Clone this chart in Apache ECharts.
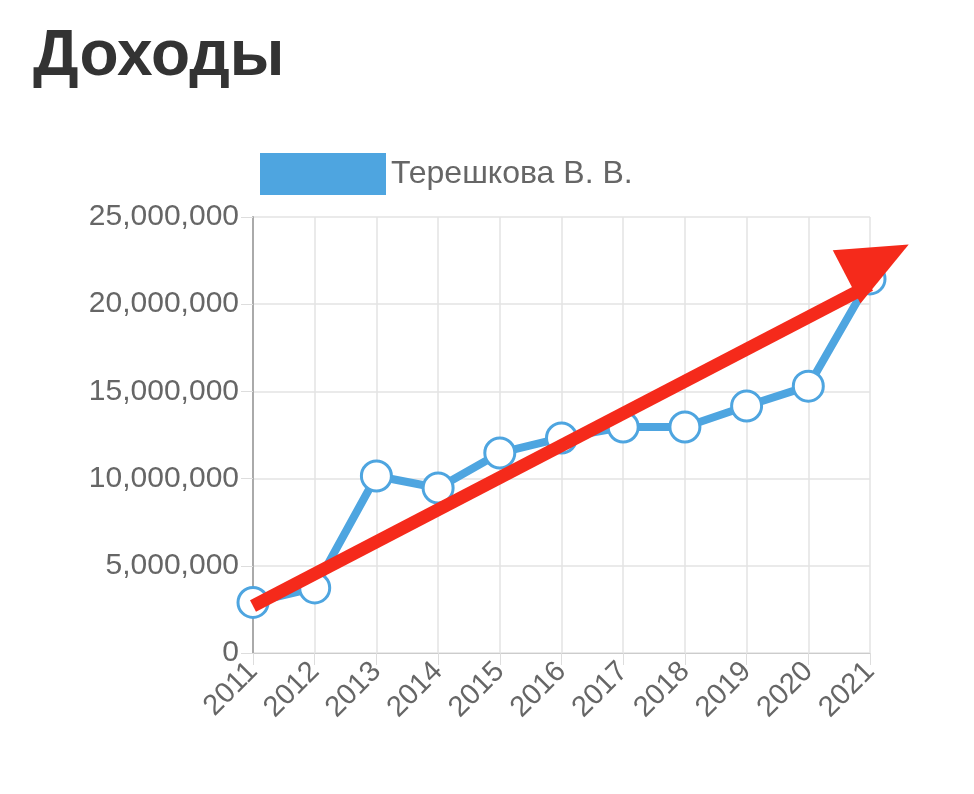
<!DOCTYPE html>
<html>
<head>
<meta charset="utf-8">
<script src="https://cdn.jsdelivr.net/npm/echarts@6/dist/echarts.min.js"></script>
<style>html,body{margin:0;padding:0;background:#fff}#c{width:974px;height:794px}</style>
</head>
<body>
<div id="c"></div>
<script>
var years = ['2011','2012','2013','2014','2015','2016','2017','2018','2019','2020','2021'];
var income = [2900000, 3730000, 10150000, 9460000, 11470000, 12330000, 12960000, 12960000, 14160000, 15300000, 21450000];
var arrowFrom = ['2011', 2700000];
var arrowTo = ['2021', 21100000];

var chart = echarts.init(document.getElementById('c'));
chart.setOption({
	animation: false,
	title: {
		text: 'Доходы',
		left: 28, top: 20,
		textStyle: {fontSize: 64, fontWeight: 'bold', color: '#333', fontFamily: 'Liberation Sans'}
	},
	legend: {
		data: ['Терешкова В. В.'],
		left: 255, top: 148,
		itemWidth: 126, itemHeight: 42,
		itemGap: 14,
		icon: 'rect',
		itemStyle: {color: '#4ea5e0', borderWidth: 0},
		textStyle: {fontSize: 32, color: '#666', fontFamily: 'Liberation Sans'}
	},
	grid: {left: 253, right: 104, top: 217, bottom: 141},
	xAxis: {
		type: 'category',
		data: years,
		boundaryGap: false,
		axisLine: {lineStyle: {color: '#ccc'}},
		axisTick: {show: true, length: 12, lineStyle: {color: '#ddd'}},
		splitLine: {show: true, lineStyle: {color: '#e3e3e3', width: 1.5}},
		axisLabel: {rotate: 45, fontSize: 29, color: '#666', margin: 14, fontFamily: 'Liberation Sans'}
	},
	yAxis: {
		type: 'value',
		min: 0, max: 25000000, interval: 5000000,
		axisLine: {show: true, lineStyle: {color: '#aaa', width: 2}},
		axisTick: {show: true, length: 12, lineStyle: {color: '#ddd'}},
		splitLine: {lineStyle: {color: '#e3e3e3', width: 1.5}},
		axisLabel: {
			fontSize: 30, color: '#666', margin: 14, fontFamily: 'Liberation Sans',
			formatter: function (v) { return v.toLocaleString('en-US'); }
		}
	},
	series: [{
		name: 'Терешкова В. В.',
		type: 'line',
		data: income,
		color: '#4ea5e0',
		symbol: 'circle',
		symbolSize: 30,
		lineStyle: {width: 8, color: '#4ea5e0'},
		itemStyle: {color: '#fff', borderColor: '#4ea5e0', borderWidth: 3},
		markLine: {
			silent: true,
			symbol: ['none', 'triangle'],
			symbolSize: [60, 70],
			symbolOffset: [0, -18],
			label: {show: false},
			lineStyle: {color: '#f52a1b', width: 13, type: 'solid'},
			itemStyle: {color: '#f52a1b'},
			data: [[{coord: arrowFrom}, {coord: arrowTo}]]
		}
	}]
});
</script>
</body>
</html>
